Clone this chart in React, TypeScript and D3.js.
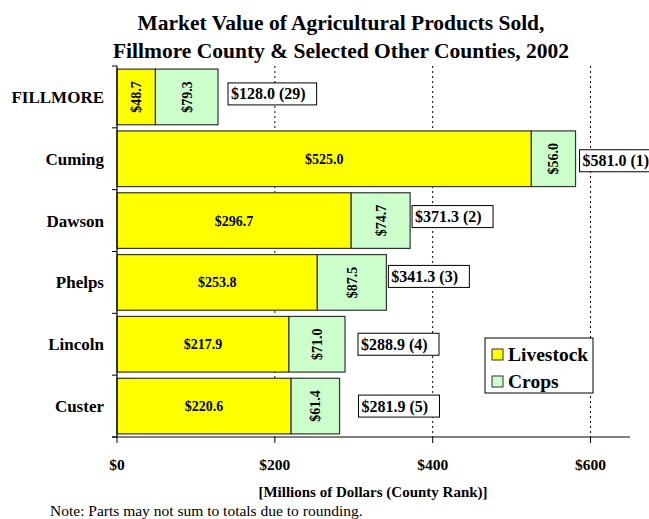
import React from "react";
import * as d3 from "d3";

const counties = ["FILLMORE", "Cuming", "Dawson", "Phelps", "Lincoln", "Custer"];
const livestock = [48.7, 525.0, 296.7, 253.8, 217.9, 220.6];
const crops = [79.3, 56.0, 74.7, 87.5, 71.0, 61.4];
const totals = [128.0, 581.0, 371.3, 341.3, 288.9, 281.9];
const ranks = [29, 1, 2, 3, 4, 5];
const xTicks = [0, 200, 400, 600];

const totalLabelDx = [10, 4, 2, 2, 13, 19];
const totalLabelDy = [-3, 2, -4, -6, 0, 0];

const W = 649, H = 519;
const FONT = "'Liberation Serif', 'Times New Roman', serif";

export default function App() {
  const x = d3.scaleLinear().domain([0, 650]).range([117, 630]);
  const y = d3.scaleBand<string>().domain(counties).range([66, 437]).paddingInner(0.1).paddingOuter(0.05);
  const yEdges = counties.map((_, i) => 66 + i * (371 / counties.length));
  yEdges.push(437);
  const fmt = (v: number) => "$" + v.toFixed(1);

  return (
    <svg width={W} height={H} style={{ position: "absolute", left: 0, top: 0, fontFamily: FONT }}>
      <rect width={W} height={H} fill="#fff" />
      <text x={341} y={30} textAnchor="middle" fontSize={21.5} fontWeight="bold">Market Value of Agricultural Products Sold,</text>
      <text x={341} y={58} textAnchor="middle" fontSize={21.5} fontWeight="bold">Fillmore County &amp; Selected Other Counties, 2002</text>

      {xTicks.filter((t) => t > 0).map((t) => (
        <line key={t} x1={x(t)} x2={x(t)} y1={66} y2={437} stroke="#000" strokeWidth={1} strokeDasharray="2,3" />
      ))}

      {counties.map((c, i) => {
        const yy = y(c)!;
        const h = y.bandwidth();
        const x0 = x(0), x1 = x(livestock[i]), x2 = x(livestock[i] + crops[i]);
        const cy = yy + h / 2;
        const label = `${fmt(totals[i])} (${ranks[i]})`;
        const lx = x(totals[i]) + totalLabelDx[i];
        const lw = label.length * 7.6 + 5;
        const ly = cy + totalLabelDy[i];
        return (
          <g key={c}>
            <rect x={x0} y={yy} width={x1 - x0} height={h} fill="#FFFF00" stroke="#333" strokeWidth={1.2} />
            <rect x={x1} y={yy} width={x2 - x1} height={h} fill="#CCFFCC" stroke="#333" strokeWidth={1.2} />
            {(x1 - x0) > 60 ? (
              <text x={(x0 + x1) / 2} y={cy + 5} textAnchor="middle" fontSize={14} fontWeight="bold">{fmt(livestock[i])}</text>
            ) : (
              <text transform={`translate(${(x0 + x1) / 2 + 5},${cy}) rotate(-90)`} textAnchor="middle" fontSize={14} fontWeight="bold">{fmt(livestock[i])}</text>
            )}
            <text transform={`translate(${(x1 + x2) / 2 + 5},${cy}) rotate(-90)`} textAnchor="middle" fontSize={14} fontWeight="bold">{fmt(crops[i])}</text>
            <rect x={lx} y={ly - 11} width={lw} height={22} fill="#fff" stroke="#000" strokeWidth={1} />
            <text x={lx + 3} y={ly + 5.5} fontSize={16} fontWeight="bold">{label}</text>
            <text x={104} y={cy + 6} textAnchor="end" fontSize={17} fontWeight="bold">{c}</text>
          </g>
        );
      })}

      <line x1={117} x2={117} y1={66} y2={437} stroke="#000" strokeWidth={1.2} />
      {yEdges.map((e, i) => (
        <line key={i} x1={112} x2={117} y1={e} y2={e} stroke="#000" />
      ))}
      <line x1={112} x2={630} y1={437} y2={437} stroke="#000" strokeWidth={1.2} />
      {xTicks.map((t) => (
        <g key={t}>
          <line x1={x(t)} x2={x(t)} y1={437} y2={443} stroke="#000" />
          <text x={x(t)} y={470} textAnchor="middle" fontSize={15.5} fontWeight="bold">${t}</text>
        </g>
      ))}
      <text x={373} y={497} textAnchor="middle" fontSize={15} fontWeight="bold">[Millions of Dollars (County Rank)]</text>
      <text x={50} y={516} fontSize={15.5}>Note: Parts may not sum to totals due to rounding.</text>

      <g>
        <rect x={485} y={338} width={108} height={55} fill="#fff" stroke="#000" strokeWidth={1} />
        <rect x={492} y={349} width={11} height={11} fill="#FFFF00" stroke="#333" />
        <text x={508} y={361} fontSize={19.5} fontWeight="bold">Livestock</text>
        <rect x={492} y={376} width={11} height={11} fill="#CCFFCC" stroke="#333" />
        <text x={508} y={388} fontSize={19.5} fontWeight="bold">Crops</text>
      </g>
    </svg>
  );
}
